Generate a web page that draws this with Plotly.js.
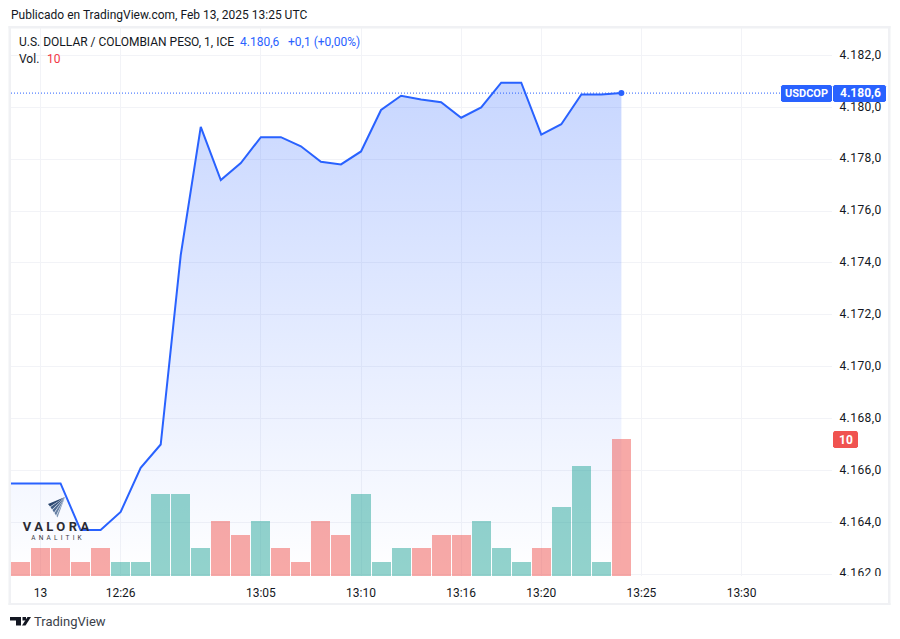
<!DOCTYPE html>
<html>
<head>
<meta charset="utf-8">
<script src="https://cdn.plot.ly/plotly-3.0.1.min.js"></script>
<style>
  html, body { margin: 0; padding: 0; background: #fff; }
  #chart { width: 900px; height: 639px; }
  .ytick text { letter-spacing: 0.45px; }
</style>
</head>
<body>
<div id="chart"></div>
<script>
/* ── Data ────────────────────────────────────────────────── */
const barIndex = [0,1,2,3,4,5,6,7,8,9,10,11,12,13,14,15,16,17,18,19,20,21,22,23,24,25,26,27,28,29,30];
const priceIndex = [-1,0,1,2,3,4,5,6,7,8,9,10,11,12,13,14,15,16,17,18,19,20,21,22,23,24,25,26,27,28,29,30];
const prices = [4165.5,4165.5,4165.5,4165.5,4163.7,4163.7,4164.4,4166.1,4167.0,4174.3,4179.25,4177.2,4177.85,
                4178.85,4178.85,4178.5,4177.9,4177.8,4178.3,4179.9,4180.45,4180.3,4180.2,4179.6,4180.0,
                4180.95,4180.95,4178.95,4179.35,4180.5,4180.5,4180.55];
const volumes = [1,2,2,1,2,1,1,6,6,2,4,3,4,2,1,4,3,6,1,2,2,3,3,4,2,1,2,5,8,1,10];
const volumeUp = [0,0,0,0,0,1,1,1,1,1,0,0,1,0,0,0,0,1,1,1,0,0,0,1,1,1,0,1,1,1,0];
const timeTickIdx = [1,5,12,17,22,26,31,36];
const timeTickText = ['13','12:26','13:05','13:10','13:16','13:20','13:25','13:30'];
const priceTicks = [4162,4164,4166,4168,4170,4172,4174,4176,4178,4180,4182];
const priceTickText = ['4.162,0','4.164,0','4.166,0','4.168,0','4.170,0','4.172,0','4.174,0','4.176,0','4.178,0','4.180,0','4.182,0'];

/* ── Colours and plot box ────────────────────────────────── */
const BLUE = '#2962ff', GRID = '#f2f3f7', FRAME = '#f0f1f4', TEXT = '#131722', RED = '#f23645';
const FONT = 'Roboto, sans-serif';
const L = 11, R = 832, T = 28, B = 576;
const X = px => (px - L) / (R - L);
const Y = py => (B - py) / (B - T);

function box(x0, y0, x1, y1, fill) {
  return { type: 'rect', xref: 'paper', yref: 'paper', layer: 'above', x0: X(x0), x1: X(x1), y0: Y(y1), y1: Y(y0),
           fillcolor: fill, line: { width: 0 } };
}
function poly(points, fill) {
  const path = points.map((p, i) => (i ? 'L' : 'M') + X(p[0]) + ',' + Y(p[1])).join(' ') + ' Z';
  return { type: 'path', xref: 'paper', yref: 'paper', layer: 'above', path, fillcolor: fill, line: { width: 0 } };
}
// small price tag with clipped corners
function tag(x0, y0, x1, y1, fill) {
  const c = 1.5;
  return poly([[x0+c,y0],[x1-c,y0],[x1,y0+c],[x1,y1-c],[x1-c,y1],[x0+c,y1],[x0,y1-c],[x0,y0+c]], fill);
}
function label(px, py, text, color, size, anchor, weight) {
  return { xref: 'paper', yref: 'paper', x: X(px), y: Y(py), text, showarrow: false,
    xanchor: anchor || 'left', yanchor: 'middle', borderpad: 0,
    font: { family: FONT, size: size || 12, color: color || TEXT, weight: weight || 400 } };
}

/* ── Traces ──────────────────────────────────────────────── */
const last = prices.length - 1;
const traces = [
  {
    x: priceIndex, y: prices, type: 'scatter', mode: 'lines', yaxis: 'y',
    line: { color: BLUE, width: 2 },
    fill: 'tozeroy',
    fillgradient: { type: 'vertical', start: 4161.9, stop: 4181,
      colorscale: [[0, 'rgba(41,98,255,0)'], [1, 'rgba(41,98,255,0.26)']] },
    hoverinfo: 'skip'
  },
  {
    x: [priceIndex[last]], y: [prices[last]], type: 'scatter', mode: 'markers', yaxis: 'y',
    marker: { color: BLUE, size: 6 }, hoverinfo: 'skip'
  },
  {
    x: barIndex, y: volumes, type: 'bar', yaxis: 'y2', width: 0.95,
    marker: { color: volumeUp.map(u => u ? 'rgba(38,166,154,0.5)' : 'rgba(239,83,80,0.5)'), line: { width: 0 } },
    hoverinfo: 'skip'
  }
];

/* ── Decoration: frame, price tags, logos ────────────────── */
const shapes = [
  { type: 'line', xref: 'x', yref: 'y', layer: 'above', x0: -0.474, x1: 38, y0: prices[last], y1: prices[last],
    line: { color: BLUE, width: 1, dash: '1px,2px' } },
  box(832, 576, 888, 603, '#ffffff'),
  box(8.5, 26, 890.5, 28.5, FRAME), box(8.5, 26, 11, 605, FRAME),
  box(888, 26, 890.5, 605, FRAME), box(8.5, 603, 890.5, 605, FRAME),
  tag(781, 85, 832, 102, BLUE), tag(833, 85, 886, 102, BLUE),
  tag(833, 431, 858, 448, '#f05350'),
  // TradingView mark
  poly([[10,617],[21,617],[21,625.5],[16,625.5],[16,620.5],[10,620.5]], '#131722'),
  poly([[27.5,617],[31,617],[25.5,625.5],[22,625.5]], '#131722'),
  poly([[22.5,617],[26,617],[26,620.5],[22.5,620.5]], '#131722')
];
// Valora Analitik mark: blades fanning out of the top right corner
const bladeColors = ['#2c4870', '#3d5a82', '#4f6b92', '#647ea2', '#7d94b3'];
const bladeEdge = [[48,504],[50.5,507],[52.5,510],[54.5,513],[56.5,516],[58,518]];
bladeColors.forEach((c, i) => {
  const a = bladeEdge[i], b = bladeEdge[i + 1];
  shapes.push(poly([[65,497], a, [b[0] - 0.5, b[1] - 0.5]], c));
});

const annotations = [
  label(9.5, 14.5, 'Publicado en TradingView.com, Feb 13, 2025 13:25 UTC'),
  label(17.5, 42, 'U.S. DOLLAR / COLOMBIAN PESO, 1, ICE'),
  label(238.5, 42, '4.180,6', BLUE),
  label(286.5, 42, '+0,1 (+0,00%)', BLUE),
  label(17.5, 59, 'Vol.'),
  label(45.5, 59, '10', RED),
  label(806.5, 93.5, 'USDCOP', '#ffffff', 11, 'center', 700),
  label(860, 93.5, '4.180,6', '#ffffff', 12, 'center', 700),
  label(845.5, 439.5, '10', '#ffffff', 12, 'center', 700),
  label(57.5, 526, 'VALORA', '#2b2b33', 13, 'center', 700),
  label(58, 537.5, 'ANALITIK', '#3a3a42', 6.5, 'center'),
  label(33, 621, 'TradingView', '#3b3f4a', 13)
];

/* ── Layout ──────────────────────────────────────────────── */
const layout = {
  width: 900, height: 639,
  margin: { l: L, r: 900 - R, t: T, b: 639 - B, pad: 0 },
  paper_bgcolor: '#ffffff', plot_bgcolor: '#ffffff',
  showlegend: false, hovermode: false, bargap: 0,
  font: { family: FONT, size: 12, color: TEXT },
  xaxis: {
    range: [-0.474, 40.515], tickmode: 'array', tickvals: timeTickIdx, ticktext: timeTickText,
    showgrid: true, gridcolor: GRID, gridwidth: 1, zeroline: false, showline: false,
    ticks: 'outside', ticklen: 6, tickcolor: 'rgba(0,0,0,0)', tickangle: 0,
    tickfont: { family: FONT, size: 12, color: TEXT }, fixedrange: true
  },
  yaxis: {
    side: 'right', range: [4161.93, 4183.06], tickmode: 'array', tickvals: priceTicks, ticktext: priceTickText,
    showgrid: true, gridcolor: GRID, gridwidth: 1, zeroline: false, showline: false,
    ticks: 'outside', ticklen: 4, tickcolor: 'rgba(0,0,0,0)', ticklabelshift: -1,
    tickfont: { family: FONT, size: 12, color: TEXT }, fixedrange: true
  },
  yaxis2: {
    overlaying: 'y', side: 'left', range: [-0.02, 40], visible: false, fixedrange: true
  },
  shapes, annotations
};

Plotly.newPlot('chart', traces, layout, { displayModeBar: false, staticPlot: true }).then(() => {
  document.querySelectorAll('.annotation-text').forEach(t => {
    if (t.textContent === 'VALORA') t.style.letterSpacing = '3.4px';
    if (t.textContent === 'ANALITIK') t.style.letterSpacing = '3.2px';
  });
});
</script>
</body>
</html>
